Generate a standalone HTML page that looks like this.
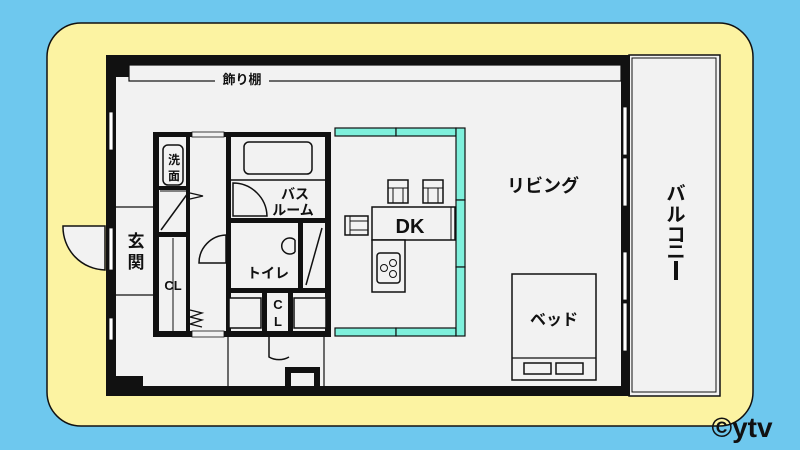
<!DOCTYPE html>
<html><head><meta charset="utf-8"><style>
html,body{margin:0;padding:0;background:#6ec8ee;}
svg{display:block}
text{font-family:"Liberation Sans","Noto Sans CJK JP",sans-serif;font-weight:bold;fill:#111}
</style></head><body>
<svg width="800" height="450" viewBox="0 0 800 450" xmlns="http://www.w3.org/2000/svg">
<rect width="800" height="450" fill="#6ec8ee"/>
<rect x="47" y="23" width="706" height="403" rx="34" fill="#fcf3a2" stroke="#111" stroke-width="1.5"/>
<!-- balcony -->
<rect x="629" y="55" width="91" height="341" fill="#f2f2f2" stroke="#111" stroke-width="1.5"/>
<rect x="632" y="58" width="84" height="334" fill="none" stroke="#111" stroke-width="1"/>
<text x="676" y="200" font-size="19" text-anchor="middle">バ</text>
<text x="676" y="221" font-size="19" text-anchor="middle">ル</text>
<text x="676" y="241" font-size="19" text-anchor="middle">コ</text>
<text x="676" y="258" font-size="19" text-anchor="middle">ニ</text>
<rect x="674" y="261" width="4" height="19" fill="#111"/>
<!-- main outer wall -->
<rect x="106" y="55" width="524" height="341" fill="#111"/>
<rect x="116" y="65" width="505" height="321" fill="#f2f2f2"/>
<rect x="116" y="376" width="27" height="10" fill="#111"/>
<rect x="116" y="65" width="13" height="12" fill="#111"/>
<!-- shelf -->
<rect x="129" y="65" width="492" height="16" fill="#f2f2f2" stroke="#111" stroke-width="1.2"/>
<rect x="215" y="70" width="54" height="14" fill="#f2f2f2"/>
<text x="242" y="84" font-size="13" text-anchor="middle">飾り棚</text>
<!-- window slits -->
<g fill="#fff" stroke="#111" stroke-width="0.8">
<rect x="109" y="112" width="4" height="38"/><rect x="109" y="318" width="4" height="22"/><rect x="109" y="228" width="4" height="42"/>
<rect x="623" y="107" width="4" height="48"/><rect x="623" y="158" width="4" height="48"/>
<rect x="623" y="252" width="4" height="48"/><rect x="623" y="303" width="4" height="48"/>
</g>
<!-- entry door -->
<path d="M63,226 L105,226 L105,270 A43,43 0 0 1 63,226 Z" fill="#f2f2f2" stroke="#111" stroke-width="1.5"/>
<!-- genkan -->
<line x1="116" y1="207" x2="153" y2="207" stroke="#111" stroke-width="1.2"/>
<line x1="116" y1="295" x2="153" y2="295" stroke="#111" stroke-width="1.2"/>
<text x="136" y="247" font-size="17" text-anchor="middle">玄</text>
<text x="136" y="268" font-size="17" text-anchor="middle">関</text>
<!-- inner core walls -->
<g fill="#111">
<rect x="153" y="132" width="6" height="205"/>
<rect x="153" y="132" width="178" height="5"/>
<rect x="153" y="331" width="178" height="6"/>
<rect x="186" y="137" width="4" height="194"/>
<rect x="153" y="186" width="37" height="4"/>
<rect x="153" y="232" width="37" height="5"/>
<rect x="226" y="137" width="5" height="194"/>
<rect x="226" y="218" width="105" height="5"/>
<rect x="325" y="132" width="6" height="205"/>
<rect x="226" y="288" width="105" height="5"/>
<rect x="298" y="223" width="5" height="70"/>
</g>
<rect x="192" y="132" width="32" height="5" fill="#f2f2f2" stroke="#111" stroke-width="0.8"/>
<rect x="192" y="331" width="32" height="6" fill="#f2f2f2" stroke="#111" stroke-width="0.8"/>
<!-- wash -->
<rect x="163" y="145" width="20" height="40" rx="5" fill="#f2f2f2" stroke="#111" stroke-width="1.5"/>
<text x="174" y="164" font-size="12" text-anchor="middle">洗</text>
<text x="174" y="180" font-size="12" text-anchor="middle">面</text>
<line x1="160" y1="191" x2="186" y2="191" stroke="#111"/>
<line x1="161" y1="230" x2="188" y2="193" stroke="#111" stroke-width="1.5"/>
<path d="M190,193 L203,196 L190,199" fill="none" stroke="#111" stroke-width="1.2"/>
<line x1="173" y1="238" x2="173" y2="331" stroke="#111"/>
<text x="173" y="290" font-size="13" text-anchor="middle" font-weight="normal">CL</text>
<path d="M190,310 L202,313 L190,317 L202,320 L190,324 L202,327" fill="none" stroke="#111" stroke-width="1.3"/>
<!-- toilet door -->
<path d="M226,235 L226,263 L199,263 A28,28 0 0 1 226,235 Z" fill="#f2f2f2" stroke="#111" stroke-width="1.5"/>
<!-- bath -->
<line x1="231" y1="180" x2="325" y2="180" stroke="#111" stroke-width="1.5"/>
<rect x="244" y="142" width="68" height="32" rx="5" fill="#f2f2f2" stroke="#111" stroke-width="1.5"/>
<path d="M233,183 A34,34 0 0 1 267,216 L233,216 Z" fill="none" stroke="#111" stroke-width="1.5"/>
<text x="295" y="199" font-size="14" text-anchor="middle">バス</text>
<text x="293" y="215" font-size="14" text-anchor="middle">ルーム</text>
<!-- toilet -->
<path d="M295,240 A8,8 0 1 0 295,252 M295,240 L295,252" fill="none" stroke="#111" stroke-width="1.5"/>
<text x="268" y="278" font-size="14" text-anchor="middle" font-weight="normal">トイレ</text>
<line x1="306" y1="285" x2="322" y2="228" stroke="#111" stroke-width="1.5"/>
<!-- bottom closets -->
<rect x="229" y="298" width="32" height="30" fill="#f2f2f2" stroke="#111" stroke-width="1.5"/>
<rect x="294" y="298" width="32" height="30" fill="#f2f2f2" stroke="#111" stroke-width="1.5"/>
<rect x="262" y="293" width="5" height="38" fill="#111"/><rect x="288" y="293" width="5" height="38" fill="#111"/>
<text x="278" y="309" font-size="13" text-anchor="middle" font-weight="normal">C</text>
<text x="278" y="326" font-size="13" text-anchor="middle" font-weight="normal">L</text>
<path d="M269,337 L269,357 A20,20 0 0 0 289,357" fill="none" stroke="#111" stroke-width="1.5"/>
<line x1="228" y1="337" x2="228" y2="386" stroke="#111" stroke-width="1.2"/>
<line x1="324" y1="337" x2="324" y2="386" stroke="#111" stroke-width="1.2"/>
<rect x="285" y="367" width="35" height="19" fill="#111"/><rect x="291" y="373" width="23" height="13" fill="#f2f2f2"/>
<!-- DK windows -->
<g fill="#7ff0dc" stroke="#111" stroke-width="1.2">
<rect x="335" y="128" width="61" height="8"/><rect x="396" y="128" width="60" height="8"/>
<rect x="335" y="328" width="61" height="8"/><rect x="396" y="328" width="60" height="8"/>
<rect x="456" y="128" width="9" height="72"/><rect x="456" y="200" width="9" height="67"/><rect x="456" y="267" width="9" height="69"/>
</g>
<!-- DK furniture -->
<g fill="#f2f2f2" stroke="#111" stroke-width="1.5">
<rect x="388" y="180" width="20" height="23"/><rect x="423" y="180" width="20" height="23"/>
<rect x="345" y="216" width="23" height="19"/>
<rect x="372" y="207" width="83" height="33"/>
<rect x="372" y="240" width="33" height="52"/>
<rect x="377" y="253" width="23" height="30" rx="3"/>
</g>
<g fill="none" stroke="#111" stroke-width="1">
<line x1="393" y1="188" x2="393" y2="203"/><line x1="403" y1="188" x2="403" y2="203"/><line x1="388" y1="188" x2="408" y2="188"/>
<line x1="428" y1="188" x2="428" y2="203"/><line x1="438" y1="188" x2="438" y2="203"/><line x1="423" y1="188" x2="443" y2="188"/>
<line x1="350" y1="216" x2="350" y2="235"/><line x1="350" y1="221" x2="368" y2="221"/><line x1="350" y1="230" x2="368" y2="230"/>
<line x1="451" y1="207" x2="451" y2="240"/>
<circle cx="384" cy="268" r="3.5"/><circle cx="393" cy="263" r="3.5"/><circle cx="393" cy="274" r="3.5"/>
</g>
<text x="410" y="233" font-size="20" text-anchor="middle" font-weight="normal">DK</text>
<text x="543" y="192" font-size="18" text-anchor="middle">リビング</text>
<!-- bed -->
<rect x="512" y="274" width="84" height="106" fill="#f2f2f2" stroke="#111" stroke-width="1.5"/>
<line x1="512" y1="358" x2="596" y2="358" stroke="#111" stroke-width="1.2"/>
<rect x="524" y="363" width="27" height="11" fill="none" stroke="#111" stroke-width="1.5"/>
<rect x="556" y="363" width="27" height="11" fill="none" stroke="#111" stroke-width="1.5"/>
<text x="554" y="325" font-size="16" text-anchor="middle">ベッド</text>
<text x="742" y="437" font-size="28" text-anchor="middle" style="fill:#111">©ytv</text>
</svg>
</body></html>
